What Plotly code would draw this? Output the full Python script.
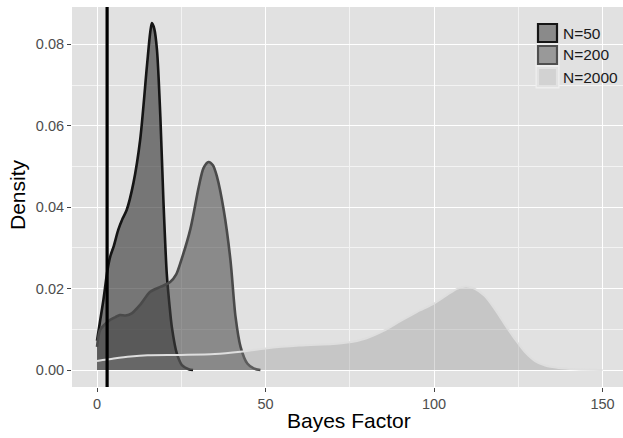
import plotly.graph_objects as go

# ---- data ----
series_names = ["N=50", "N=200", "N=2000"]

n50_x = [0, 1.0, 1.9, 3.1, 3.9, 5.0, 6.3, 7.6, 8.8, 10.8, 12.8, 14.8, 15.8, 16.3, 17.0, 17.8, 18.8, 19.7, 20.7, 21.5, 22.2, 23.7, 25.2, 27.2, 28.5]
n50_y = [0.0072, 0.0125, 0.0172, 0.0245, 0.0278, 0.0305, 0.0344, 0.0372, 0.0393, 0.0459, 0.0565, 0.0745, 0.0830, 0.0852, 0.0838, 0.0786, 0.0622, 0.0418, 0.0237, 0.0160, 0.0106, 0.0040, 0.0012, 0.0002, 0.0]

n200_x = [0, 0.9, 2.3, 3.9, 5.5, 6.8, 8.5, 10.3, 12.8, 15.8, 18.8, 21.7, 23.5, 24.7, 27.7, 30.2, 31.6, 33.1, 34.4, 35.6, 37.6, 39.6, 41.1, 42.6, 44.6, 46.5, 48.5]
n200_y = [0.0057, 0.0098, 0.0112, 0.0123, 0.0130, 0.0135, 0.0134, 0.0139, 0.0160, 0.0192, 0.0204, 0.0216, 0.0235, 0.0262, 0.0346, 0.0450, 0.0496, 0.0511, 0.0503, 0.0475, 0.0393, 0.0270, 0.0131, 0.0057, 0.0016, 0.0004, 0.0]

n2000_x = [0, 5, 10, 15, 25, 35, 42.6, 50, 60, 70, 75, 80, 85, 90, 95, 100, 104, 107, 109.5, 112, 115, 118, 121, 124, 127, 130, 133, 137, 142, 150]
n2000_y = [0.0022, 0.0028, 0.0033, 0.0036, 0.0037, 0.0039, 0.0045, 0.0053, 0.0060, 0.0064, 0.0068, 0.0078, 0.0096, 0.0120, 0.0143, 0.0163, 0.0185, 0.0200, 0.0205, 0.0200, 0.0182, 0.0150, 0.0112, 0.0076, 0.0044, 0.0022, 0.0011, 0.0005, 0.0002, 0.0]

threshold_x = 3

x_ticks = [0, 50, 100, 150]
y_ticks = [0.00, 0.02, 0.04, 0.06, 0.08]

# ---- styling ----
W, H = 623, 438
ML, MR, MT, MB = 72, 0, 7, 51
FONT = "Liberation Sans, Arial"

fills = ["rgba(47,47,47,0.60)", "rgba(65,65,65,0.54)", "rgba(135,135,135,0.30)"]
lines = ["#151515", "#4a4a4a", "#dedede"]
line_w = [2.6, 2.6, 2.0]

xs = [n50_x, n200_x, n2000_x]
ys = [n50_y, n200_y, n2000_y]

fig = go.Figure()
for name, x, y, fc, lc, lw in zip(series_names, xs, ys, fills, lines, line_w):
    fig.add_trace(go.Scatter(
        x=x, y=y, name=name, mode="lines", fill="tozeroy", fillcolor=fc,
        line=dict(color=lc, width=lw, shape="spline", smoothing=0.8),
        showlegend=False,
    ))

fig.add_vline(x=threshold_x, line=dict(color="black", width=3.2), layer="above")

def px_x(p):
    return (p - ML) / (W - ML - MR)

def px_y(p):
    return (H - MB - p) / (H - MT - MB)

# manual legend (ggplot-like keys)
key_fill = ["#8a8a8a", "#999999", "#d2d2d2"]
key_line = ["#151515", "#4f4f4f", "#e2e2e2"]
shapes = []
annotations = []
for i, name in enumerate(series_names):
    top = 22 + 22 * i
    shapes.append(dict(type="rect", xref="paper", yref="paper",
                       x0=px_x(535.5), x1=px_x(559.5), y0=px_y(top + 22.5), y1=px_y(top - 0.5),
                       fillcolor="#eeeeee", line=dict(width=0), layer="above"))
    shapes.append(dict(type="rect", xref="paper", yref="paper",
                       x0=px_x(538), x1=px_x(557), y0=px_y(top + 20), y1=px_y(top + 2),
                       fillcolor=key_fill[i], line=dict(color=key_line[i], width=2.2), layer="above"))
    annotations.append(dict(xref="paper", yref="paper", x=px_x(561), y=px_y(top + 11),
                            text=name, showarrow=False, xanchor="left", yanchor="middle",
                            font=dict(family=FONT, size=15.5, color="#1a1a1a")))

annotations.append(dict(xref="paper", yref="paper", x=px_x(349), y=px_y(420), text="Bayes Factor",
                        showarrow=False, xanchor="center", yanchor="middle",
                        font=dict(family=FONT, size=21, color="black")))
annotations.append(dict(xref="paper", yref="paper", x=px_x(17), y=px_y(195), text="Density",
                        showarrow=False, xanchor="center", yanchor="middle", textangle=-90,
                        font=dict(family=FONT, size=21, color="black")))

x_per_px = 50 / 168.5
x0 = 0 - (97 - ML) * x_per_px
x1 = x0 + (W - ML - MR) * x_per_px
y_per_px = 0.08 / 325.7
y0 = 0 - (H - MB - 370) * y_per_px
y1 = y0 + (H - MT - MB) * y_per_px

fig.update_layout(
    width=W, height=H,
    margin=dict(l=ML, r=MR, t=MT, b=MB, pad=0),
    paper_bgcolor="white", plot_bgcolor="#e1e1e1",
    shapes=shapes, annotations=annotations,
    font=dict(family=FONT, size=14.5, color="#4d4d4d"),
    showlegend=False,
)
fig.update_xaxes(
    range=[x0, x1], tickvals=x_ticks, ticktext=[str(v) for v in x_ticks],
    ticks="outside", ticklen=4, tickwidth=1.1, tickcolor="#444444",
    showgrid=True, gridcolor="white", gridwidth=1.3, zeroline=False, showline=False,
    minor=dict(tickvals=[25, 75, 125], showgrid=True, gridcolor="#f3f3f3", gridwidth=0.7, ticks=""),
    tickfont=dict(family=FONT, size=14.5, color="#4d4d4d"),
)
fig.update_yaxes(
    range=[y0, y1], tickvals=y_ticks, ticktext=[f"{v:.2f}" for v in y_ticks],
    ticks="outside", ticklen=4, tickwidth=1.1, tickcolor="#444444",
    showgrid=True, gridcolor="white", gridwidth=1.3, zeroline=False, showline=False,
    minor=dict(tickvals=[0.01, 0.03, 0.05, 0.07], showgrid=True, gridcolor="#f3f3f3", gridwidth=0.7, ticks=""),
    tickfont=dict(family=FONT, size=14.5, color="#4d4d4d"),
)

fig.write_html("out.html", config={"displayModeBar": False},
               post_script="document.body.style.margin='0px';")
